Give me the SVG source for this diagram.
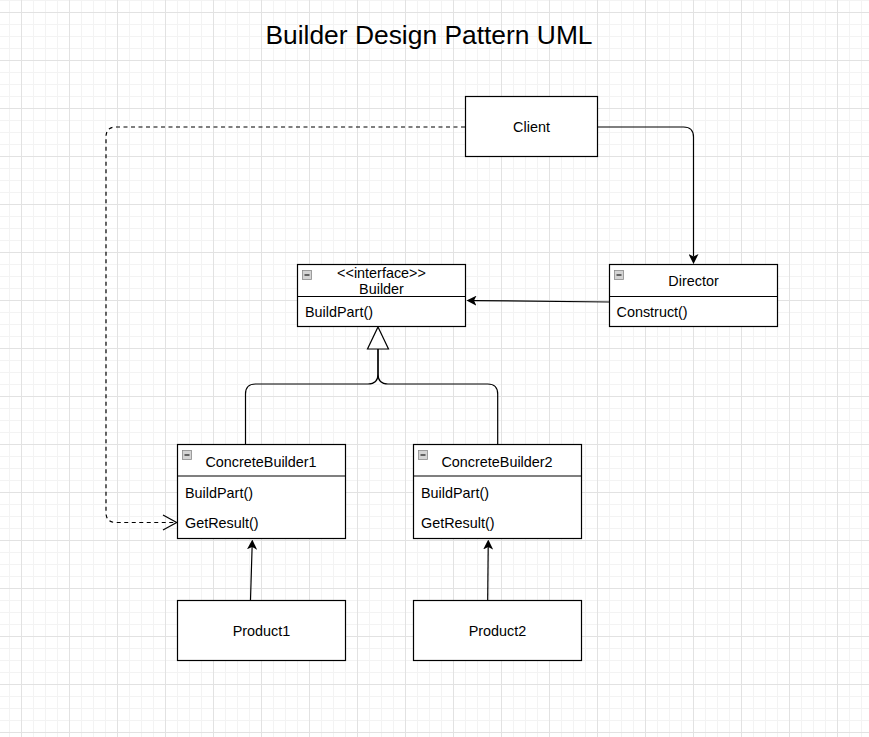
<svg xmlns="http://www.w3.org/2000/svg" width="869" height="737" viewBox="0 0 869 737">
<style>
text{font-family:"Liberation Sans",Arial,Helvetica,sans-serif;fill:#000}
.lbl{font-size:14.4px}
.mid{text-anchor:middle}
.box{fill:#fff;stroke:#000;stroke-width:1.2}
.sep{stroke:#000;stroke-width:1.2}
.edge{fill:none;stroke:#000;stroke-width:1.2}
.dash{stroke-dasharray:4 3.5}
.ico{fill:#d4d4d4;stroke:#8a8a8a;stroke-width:0.8}
.icm{stroke:#333;stroke-width:1.4}
</style>
<defs>
<pattern id="grid" patternUnits="userSpaceOnUse" x="21" y="12" width="48" height="48">
<path d="M12.5 0V48M24.5 0V48M36.5 0V48M0 12.5H48M0 24.5H48M0 36.5H48" stroke="#f3f3f3" stroke-width="1" fill="none"/>
<path d="M0.5 0V48M0 0.5H48" stroke="#e2e2e2" stroke-width="1" fill="none"/>
</pattern>
<marker id="classic" viewBox="0 0 10 10" refX="2.5" refY="5" markerWidth="10" markerHeight="10" markerUnits="userSpaceOnUse" orient="auto">
<path d="M0 0L10 5L0 10L2.5 5Z" fill="#000"/>
</marker>
</defs>
<rect width="869" height="737" fill="#fff"/>
<rect width="869" height="737" fill="url(#grid)"/>
<text x="429" y="44" class="mid" style="font-size:26.4px">Builder Design Pattern UML</text>
<g id="connectors">
<path class="edge dash" d="M465 127H116Q106 127 106 137V512.5Q106 522.5 116 522.5H176.5"/>
<path class="edge" d="M163 515L176.7 522.5L163 530"/>
<path class="edge" d="M598 127H683.5Q693.5 127 693.5 137V256.5" marker-end="url(#classic)"/>
<path class="edge" d="M609 302L474 300.6" marker-end="url(#classic)"/>
<path class="edge" d="M245.5 444V394Q245.5 384 255.5 384H368Q378 384 378 374V349"/>
<path class="edge" d="M497.7 444V394Q497.7 384 487.7 384H388Q378 384 378 374V349"/>
<path d="M378 327L388.5 349H367.5Z" fill="#fff" stroke="#000" stroke-width="1.2"/>
<path class="edge" d="M250.5 600L252.1 547" marker-end="url(#classic)"/>
<path class="edge" d="M487.7 600L488.2 547" marker-end="url(#classic)"/>
</g>
<g id="client">
<rect class="box" x="465.5" y="96.5" width="132" height="60"/>
<text x="531.5" y="132" class="lbl mid">Client</text>
</g>
<g id="builder">
<rect class="box" x="297.5" y="264.5" width="168" height="62"/>
<line class="sep" x1="297.5" y1="296.5" x2="465.5" y2="296.5"/>
<rect class="ico" x="302.5" y="270.5" width="9" height="9"/>
<line class="icm" x1="304.5" y1="275" x2="309.5" y2="275"/>
<text x="381.5" y="277.5" class="lbl mid">&lt;&lt;interface&gt;&gt;</text>
<text x="381.5" y="293.5" class="lbl mid">Builder</text>
<text x="305" y="316.5" class="lbl">BuildPart()</text>
</g>
<g id="director">
<rect class="box" x="609.5" y="264.5" width="168" height="62"/>
<line class="sep" x1="609.5" y1="296.5" x2="777.5" y2="296.5"/>
<rect class="ico" x="614.5" y="270.5" width="9" height="9"/>
<line class="icm" x1="616.5" y1="275" x2="621.5" y2="275"/>
<text x="693.5" y="286" class="lbl mid">Director</text>
<text x="616.5" y="317" class="lbl">Construct()</text>
</g>
<g id="concretebuilder1">
<rect class="box" x="177.5" y="444.5" width="168" height="94"/>
<line class="sep" x1="177.5" y1="476" x2="345.5" y2="476"/>
<rect class="ico" x="182.5" y="450.5" width="9" height="9"/>
<line class="icm" x1="184.5" y1="455" x2="189.5" y2="455"/>
<text x="261" y="466.5" class="lbl mid">ConcreteBuilder1</text>
<text x="185" y="497.5" class="lbl">BuildPart()</text>
<text x="185" y="527.5" class="lbl">GetResult()</text>
</g>
<g id="concretebuilder2">
<rect class="box" x="413.5" y="444.5" width="168" height="94"/>
<line class="sep" x1="413.5" y1="476" x2="581.5" y2="476"/>
<rect class="ico" x="418.5" y="450.5" width="9" height="9"/>
<line class="icm" x1="420.5" y1="455" x2="425.5" y2="455"/>
<text x="497" y="466.5" class="lbl mid">ConcreteBuilder2</text>
<text x="421" y="497.5" class="lbl">BuildPart()</text>
<text x="421" y="527.5" class="lbl">GetResult()</text>
</g>
<g id="product1">
<rect class="box" x="177.5" y="600.5" width="168" height="60"/>
<text x="261.5" y="636" class="lbl mid">Product1</text>
</g>
<g id="product2">
<rect class="box" x="413.5" y="600.5" width="168" height="60"/>
<text x="497.5" y="636" class="lbl mid">Product2</text>
</g>
</svg>
